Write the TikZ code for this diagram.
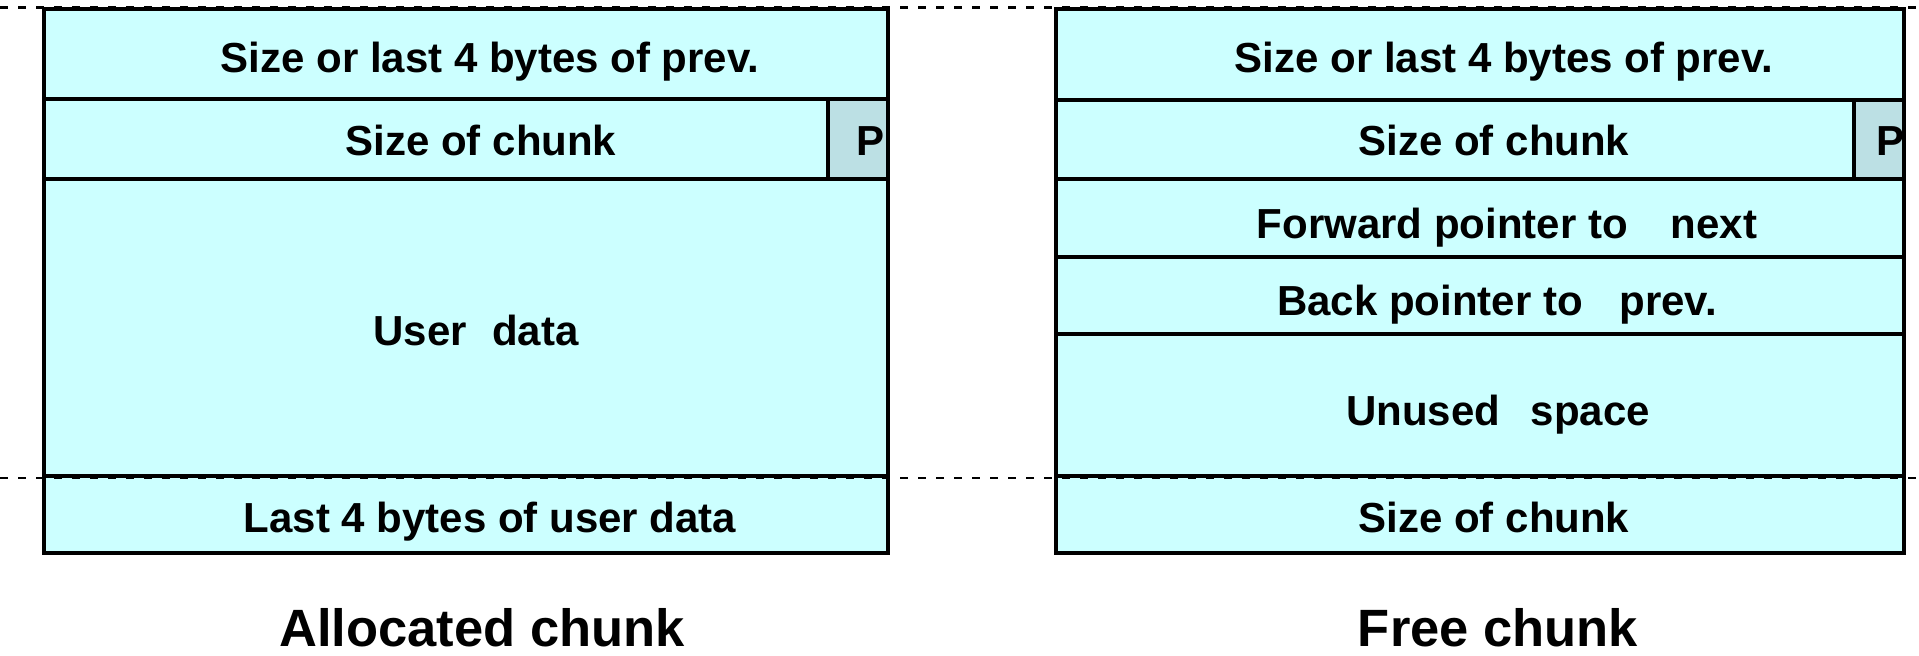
\documentclass[tikz,border=0pt]{standalone}
\usepackage{fontspec}
\setmainfont{Liberation Sans}
\definecolor{chunkfill}{RGB}{204,255,255}
\definecolor{flagfill}{RGB}{188,224,228}

% one memory-layout cell: name, top-left x, top-left y, width, height
\newcommand\memcell[6][]{%
  \node[cell,#1,minimum width=#5*0.5pt,minimum height=#6*0.5pt] (#2) at (#3,#4) {};}

\begin{document}
\begin{tikzpicture}[x=0.5pt,y=-0.5pt,
  cell/.style={draw=black,line width=2pt,fill=chunkfill,anchor=north west,
    inner sep=0pt,outer sep=0pt,rectangle},
  flag/.style={fill=flagfill},
  lbl/.style={anchor=base,inner sep=0pt,font=\fontsize{21}{25}\selectfont\bfseries},
  caption/.style={anchor=base,inner sep=0pt,font=\fontsize{26.25}{30}\selectfont\bfseries},
  guide/.style={draw=black,line width=1.4pt,dash pattern=on 4pt off 5pt}]

\useasboundingbox (0,0) rectangle (1919,655);

% allocated chunk
\memcell{a1}{44}{9}{844}{90}
\memcell{a2}{44}{99}{784}{80}
\memcell[flag]{ap}{828}{99}{60}{80}
\memcell{a3}{44}{179}{844}{297}
\memcell{a4}{44}{476}{844}{77}

% free chunk
\memcell{f1}{1056}{9}{848}{91}
\memcell{f2}{1056}{100}{798}{79}
\memcell[flag]{fp}{1854}{100}{50}{79}
\memcell{f3}{1056}{179}{848}{78}
\memcell{f4}{1056}{257}{848}{77}
\memcell{f5}{1056}{334}{848}{142}
\memcell{f6}{1056}{476}{848}{77}

% boundary guides
\coordinate (gtl) at (0,7.5);
\coordinate (gtr) at (1919,7.5);
\coordinate (gbl) at (0,478);
\coordinate (gbr) at (1919,478);
\draw[guide] (gtl) -- (gtr);
\draw[guide] (gbl) -- (gbr);

% allocated chunk labels
\node[lbl] (ta1) at (490,72) {Size or last 4 bytes of prev.};
\node[lbl] (ta2) at (481,155) {Size of chunk};
\node[lbl] (tap) at (871,155) {P};
\node[lbl] (ta3) at (476,345) {User\hspace{0.33em} data};
\node[lbl] (ta4) at (490,532) {Last 4 bytes of user data};
\node[caption] (capa) at (482,646) {Allocated chunk};

% free chunk labels
\node[lbl] (tf1) at (1504,72) {Size or last 4 bytes of prev.};
\node[lbl] (tf2) at (1494,155) {Size of chunk};
\node[lbl] (tfp) at (1890,155) {P};
\node[lbl] (tf3) at (1507,238) {Forward pointer to\hspace{0.74em} next};
\node[lbl] (tf4) at (1497,315) {Back pointer to\hspace{0.6em} prev.};
\node[lbl] (tf5) at (1498,425) {Unused\hspace{0.45em} space};
\node[lbl] (tf6) at (1494,532) {Size of chunk};
\node[caption] (capf) at (1498,646) {Free chunk};
\end{tikzpicture}
\end{document}
